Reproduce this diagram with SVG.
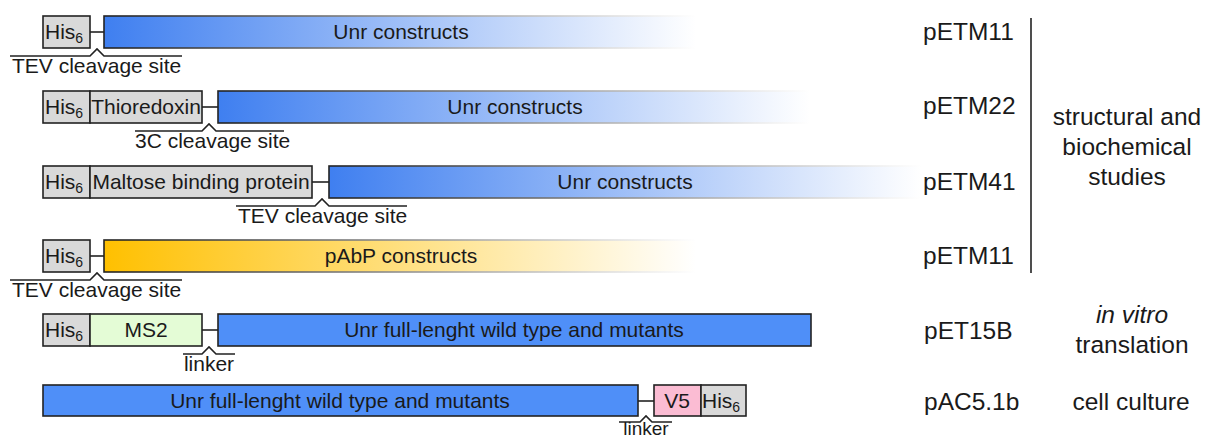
<svg xmlns="http://www.w3.org/2000/svg" width="1213" height="439" viewBox="0 0 1213 439">
<defs>
<linearGradient id="gBlue" x1="0" y1="0" x2="1" y2="0"><stop offset="0" stop-color="#3f7ff0"/><stop offset="1" stop-color="#ffffff"/></linearGradient>
<linearGradient id="gYel" x1="0" y1="0" x2="1" y2="0"><stop offset="0" stop-color="#ffc000"/><stop offset="1" stop-color="#ffffff"/></linearGradient>
<linearGradient id="gStroke" x1="0" y1="0" x2="1" y2="0"><stop offset="0" stop-color="#222222"/><stop offset="1" stop-color="#ffffff"/></linearGradient>
<style>
rect{stroke:#222;stroke-width:1.6}
.his{fill:#d9d9d9}
.blue{fill:#4f8ff8}
.fadeB{fill:url(#gBlue);stroke:url(#gStroke)}
.fadeY{fill:url(#gYel);stroke:url(#gStroke)}
.ms2{fill:#e4fcd6}
.v5{fill:#fbbcd3}
.ln{stroke:#222;stroke-width:1.6;fill:none}
text{font-family:"Liberation Sans",Arial,sans-serif;fill:#1a1a1a}
.t{font-size:21px}
.c{text-anchor:middle}
.sub{font-size:14px}
.r{font-size:24.5px}
</style>
</defs>
<g id="connectors">
<line class="ln" x1="90" y1="32" x2="104" y2="32"/>
<line class="ln" x1="202" y1="107" x2="218" y2="107"/>
<line class="ln" x1="312" y1="182" x2="329" y2="182"/>
<line class="ln" x1="90" y1="256" x2="104" y2="256"/>
<line class="ln" x1="202" y1="330" x2="218" y2="330"/>
<line class="ln" x1="638" y1="401" x2="654" y2="401"/>
<line class="ln" x1="1031" y1="18" x2="1031" y2="273"/>
</g>
<g id="brackets">
<path class="ln" d="M10,56 H90 L97,49 L104,56 H182"/>
<path class="ln" d="M135,131 H202 L209,124 L216,131 H284"/>
<path class="ln" d="M236,206 H315 L322,199 L329,206 H407"/>
<path class="ln" d="M10,280 H90 L97,273 L104,280 H182"/>
<path class="ln" d="M183,354 H202 L209,347 L216,354 H235"/>
<path class="ln" d="M619,422 H640 L646,416 L652,422 H672"/>
<text class="t" x="12" y="73">TEV cleavage site</text>
<text class="t" x="135" y="148">3C cleavage site</text>
<text class="t" x="238" y="223">TEV cleavage site</text>
<text class="t" x="12" y="297">TEV cleavage site</text>
<text class="t c" x="209" y="371">linker</text>
<text class="c" x="646" y="435" font-size="19">linker</text>
</g>
<g id="row1">
<rect class="his" x="43" y="16" width="47" height="32"/>
<text class="t" x="45" y="39">His<tspan class="sub" dy="4">6</tspan></text>
<rect class="fadeB" x="104" y="16" width="592" height="32"/>
<text class="t c" x="401" y="39">Unr constructs</text>
</g>
<g id="row2">
<rect class="his" x="43" y="91" width="47" height="32"/>
<text class="t" x="45" y="114">His<tspan class="sub" dy="4">6</tspan></text>
<rect class="his" x="90" y="91" width="112" height="32"/>
<text class="t c" x="146" y="114">Thioredoxin</text>
<rect class="fadeB" x="218" y="91" width="592" height="32"/>
<text class="t c" x="515" y="114">Unr constructs</text>
</g>
<g id="row3">
<rect class="his" x="43" y="166" width="47" height="32"/>
<text class="t" x="45" y="189">His<tspan class="sub" dy="4">6</tspan></text>
<rect class="his" x="90" y="166" width="222" height="32"/>
<text class="t c" x="201" y="189">Maltose binding protein</text>
<rect class="fadeB" x="329" y="166" width="592" height="32"/>
<text class="t c" x="625" y="189">Unr constructs</text>
</g>
<g id="row4">
<rect class="his" x="43" y="240" width="47" height="32"/>
<text class="t" x="45" y="263">His<tspan class="sub" dy="4">6</tspan></text>
<rect class="fadeY" x="104" y="240" width="592" height="32"/>
<text class="t c" x="401" y="263">pAbP constructs</text>
</g>
<g id="row5">
<rect class="his" x="43" y="314" width="47" height="32"/>
<text class="t" x="45" y="337">His<tspan class="sub" dy="4">6</tspan></text>
<rect class="ms2" x="90" y="314" width="112" height="32"/>
<text class="t c" x="146" y="337">MS2</text>
<rect class="blue" x="218" y="314" width="593" height="32"/>
<text class="t c" x="514" y="337">Unr full-lenght wild type and mutants</text>
</g>
<g id="row6">
<rect class="blue" x="43" y="385" width="595" height="31"/>
<text class="t c" x="340" y="408">Unr full-lenght wild type and mutants</text>
<rect class="v5" x="654" y="385" width="47" height="31"/>
<text class="t c" x="677" y="408">V5</text>
<rect class="his" x="701" y="385" width="45" height="31"/>
<text class="t" x="702" y="408">His<tspan class="sub" dy="4">6</tspan></text>
</g>
<g id="labels">
<text class="r" x="923" y="40">pETM11</text>
<text class="r" x="923" y="114">pETM22</text>
<text class="r" x="923" y="190">pETM41</text>
<text class="r" x="923" y="264">pETM11</text>
<text class="r" x="924" y="339">pET15B</text>
<text class="r" x="924" y="410">pAC5.1b</text>
<text class="r c" x="1127" y="125">structural and</text>
<text class="r c" x="1127" y="155">biochemical</text>
<text class="r c" x="1127" y="185">studies</text>
<text class="r c" x="1132" y="323" font-style="italic">in vitro</text>
<text class="r c" x="1132" y="353">translation</text>
<text class="r c" x="1131" y="410">cell culture</text>
</g>
</svg>
